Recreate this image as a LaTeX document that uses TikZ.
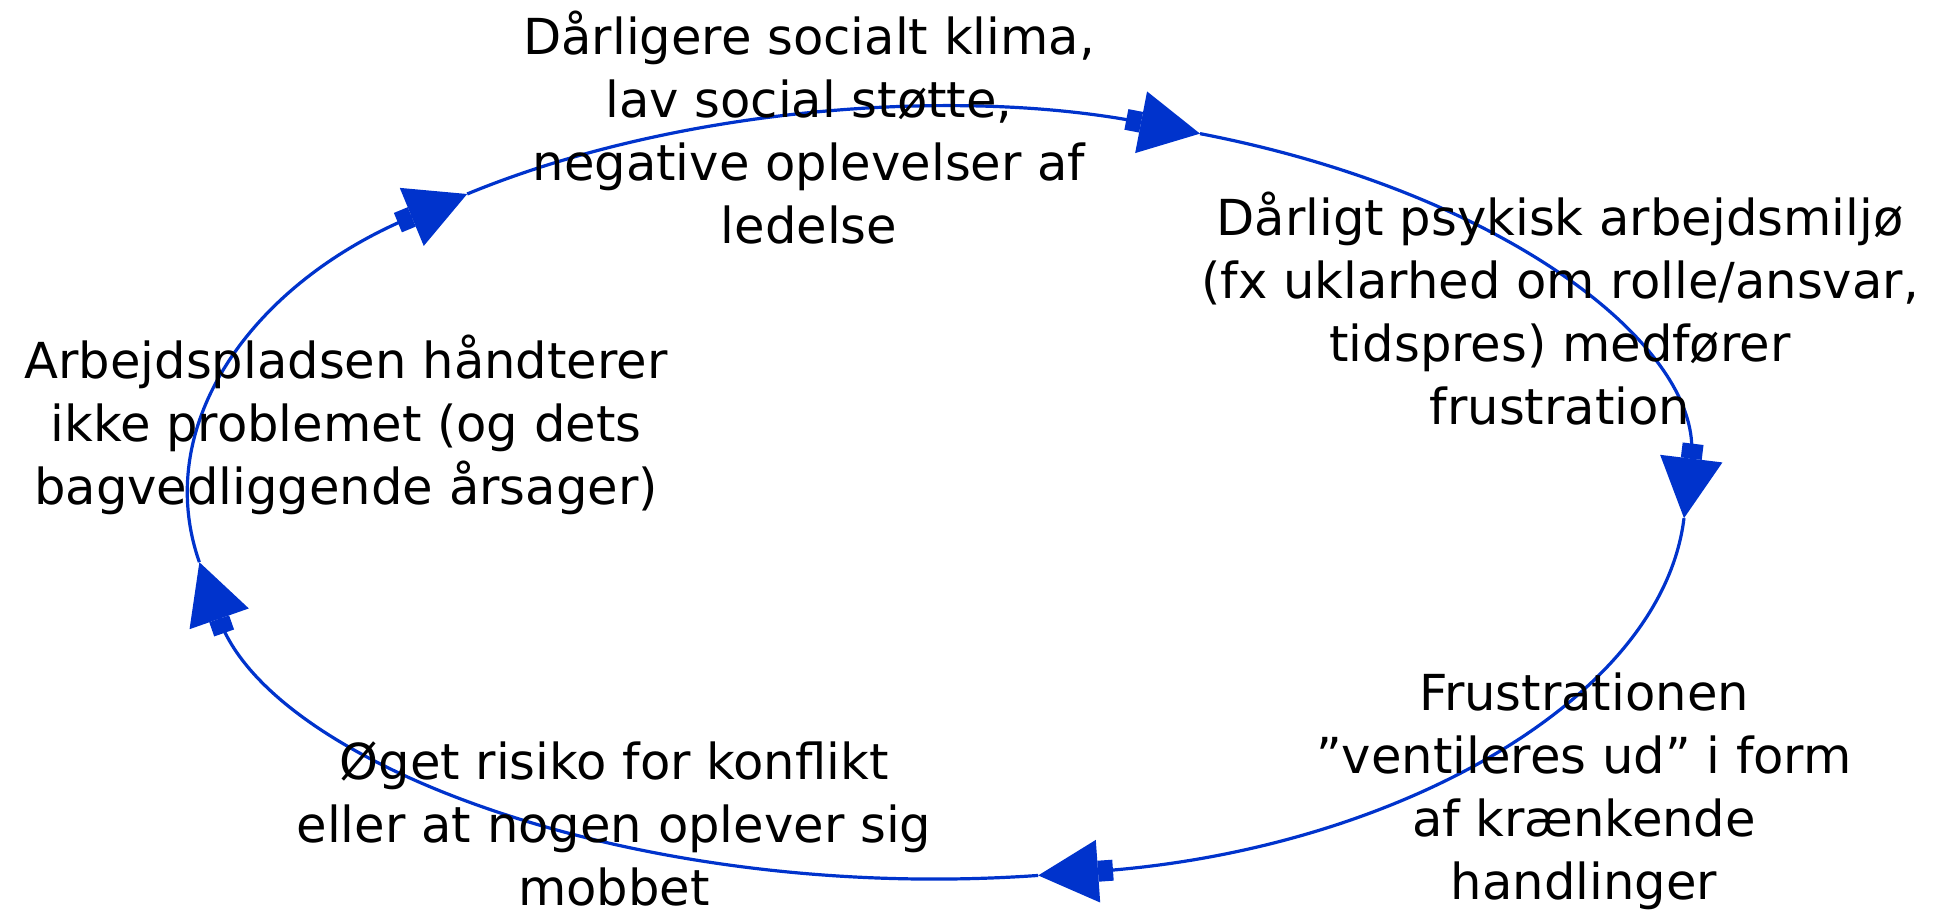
\documentclass[tikz,border=0pt]{standalone}
\usepackage{fontspec}
\setmainfont{DejaVu Sans}
\usetikzlibrary{arrows.meta,calc}
\definecolor{cycleblue}{RGB}{0,51,204}
\begin{document}
\begin{tikzpicture}[x=0.5pt,y=0.5pt,
  lbl/.style={align=center, anchor=base, inner sep=0pt,
    font=\fontsize{24.8pt}{31.5pt}\selectfont},
  flow/.style={draw=cycleblue, line width=1.6pt,
    -{Rectangle[length=7.5pt,width=10.5pt,fill=cycleblue]Triangle[length=30pt,width=31pt,fill=cycleblue]}},
]
\useasboundingbox (0,0) rectangle (1936,-917);
\coordinate (C) at (936.5,-494);
\coordinate (p1) at ($(C)+(69.4:749 and 385)$);
\coordinate (p2) at ($(C)+(-3.6:749 and 385)$);
\coordinate (p3) at ($(C)+(-82.2:749 and 385)$);
\coordinate (p4) at ($(C)+(190.2:749 and 385)$);
\coordinate (p5) at ($(C)+(128.8:749 and 385)$);

\draw[flow] (p5) arc[start angle=128.8, end angle=69.4, x radius=749, y radius=385];
\draw[flow] (p1) arc[start angle=69.4, end angle=-3.6, x radius=749, y radius=385];
\draw[flow] (p2) arc[start angle=-3.6, end angle=-82.2, x radius=749, y radius=385];
\draw[flow] (p3) arc[start angle=-82.2, end angle=-169.8, x radius=749, y radius=385];
\draw[flow] (p4) arc[start angle=190.2, end angle=128.8, x radius=749, y radius=385];

\node[lbl] (t1) at (809,-243) {Dårligere socialt klima,\\lav social støtte,\\negative oplevelser af\\ledelse};
\node[lbl] (t2) at (1560,-424) {Dårligt psykisk arbejdsmiljø\\(fx uklarhed om rolle/ansvar,\\tidspres) medfører\\frustration};
\node[lbl] (t3) at (1584,-899) {Frustrationen\\"ventileres ud" i form\\af krænkende\\handlinger};
\node[lbl] (t4) at (614,-905) {Øget risiko for konflikt\\eller at nogen oplever sig\\mobbet};
\node[lbl] (t5) at (346,-504) {Arbejdspladsen håndterer\\ikke problemet (og dets\\bagvedliggende årsager)};
\end{tikzpicture}
\end{document}
